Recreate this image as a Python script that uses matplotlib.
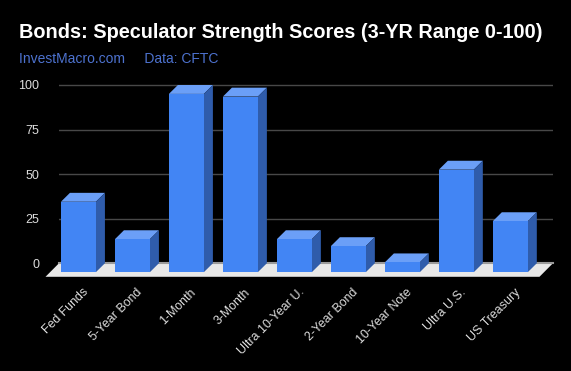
import numpy as np
import matplotlib.pyplot as plt
from matplotlib.patches import Polygon

categories = ['Fed Funds', '5-Year Bond', '1-Month', '3-Month', 'Ultra 10-Year U.',
              '2-Year Bond', '10-Year Note', 'Ultra U.S.', 'US Treasury']
scores = [39.5, 18.5, 100, 98.5, 18.5, 14.6, 5.5, 57.5, 28.6]
yticks = [0, 25, 50, 75, 100]

FRONT = '#4285f4'
TOP = '#6b9ff7'
SIDE = '#2f5cab'

plt.rcParams['font.family'] = ['Liberation Sans', 'DejaVu Sans']

fig = plt.figure(figsize=(5.71, 3.71), dpi=100, facecolor='black')
ax = fig.add_axes([0.1033, 0.2472, 0.8651, 0.5285], facecolor='black')

x = np.arange(len(categories))
width = 0.648
dx = 0.167   # depth offset in category units
dy = 5.0     # depth offset in value units

ax.set_xlim(-0.36, 8.79)
ax.set_ylim(-9, 101)

# gridlines on the back wall
for t in yticks[1:]:
    ax.axhline(t, color='#484848', lw=1, zorder=0)

# floor
xl, xr = ax.get_xlim()
fdx, fdy = 0.25, 7.6
floor = Polygon([(xl, 0), (xr, 0), (xr - fdx, -fdy), (xl - fdx, -fdy)],
                closed=True, facecolor='#e8e8e8', edgecolor='none', zorder=1, clip_on=False)
ax.add_patch(floor)
ax.plot([xl, xr], [0, 0], color='#9a9a9a', lw=1.5, zorder=1.5, clip_on=False)

# bars: front faces
ax.bar(x, np.array(scores), width=width, bottom=-dy, color=FRONT, zorder=3)
for xi, v in zip(x, scores):
    left, right = xi - width / 2, xi + width / 2
    top = Polygon([(left, v - dy), (right, v - dy), (right + dx, v), (left + dx, v)],
                  closed=True, facecolor=TOP, edgecolor='none', zorder=2)
    side = Polygon([(right, -dy), (right + dx, 0), (right + dx, v), (right, v - dy)],
                   closed=True, facecolor=SIDE, edgecolor='none', zorder=2)
    ax.add_patch(top)
    ax.add_patch(side)

for s in ax.spines.values():
    s.set_visible(False)

ax.set_yticks(yticks)
ax.set_yticklabels([str(t) for t in yticks])
ax.tick_params(axis='y', length=0, pad=14, labelsize=9, labelcolor='#dddddd')

ax.set_xticks(x + 0.07)
ax.set_xticklabels(categories, rotation=45, ha='right', rotation_mode='anchor')
ax.tick_params(axis='x', length=0, pad=5, labelsize=8.9, labelcolor='#dddddd')

fig.text(19 / 571, 1 - 33 / 371, 'Bonds: Speculator Strength Scores (3-YR Range 0-100)',
         color='white', fontsize=14.3, fontweight='bold', va='center', ha='left')
fig.text(19 / 571, 1 - 59 / 371, 'InvestMacro.com     Data: CFTC',
         color='#4d72cf', fontsize=10, va='center', ha='left')

fig.savefig('out.png', dpi=100, facecolor='black')
